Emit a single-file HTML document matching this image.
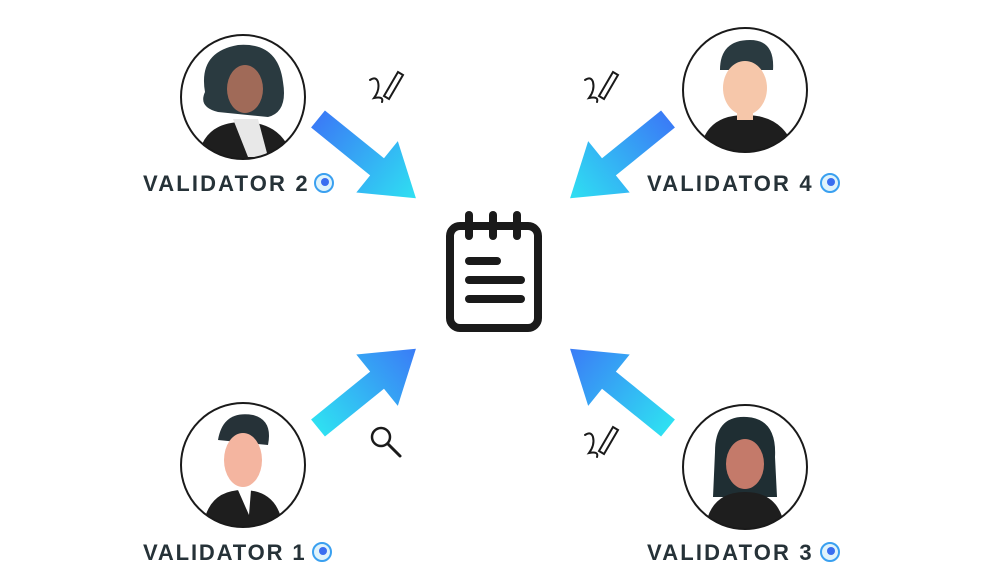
<!DOCTYPE html>
<html><head><meta charset="utf-8"><style>
html,body{margin:0;padding:0;background:#fff;}
svg{display:block}
text{font-family:"Liberation Sans",sans-serif;font-weight:bold;fill:#263238;font-size:22px;letter-spacing:2.4px}
</style></head><body>
<svg width="990" height="587" viewBox="0 0 990 587" xmlns="http://www.w3.org/2000/svg">
<defs>
<linearGradient id="g" x1="0" y1="0" x2="1" y2="0"><stop offset="0" stop-color="#3a7cf6"/><stop offset="1" stop-color="#2fe0f2"/></linearGradient>
<linearGradient id="g2" x1="0" y1="0" x2="1" y2="0"><stop offset="0" stop-color="#2fe0f2"/><stop offset="1" stop-color="#3a7cf6"/></linearGradient>
<g id="arr"><polygon points="0,-11 76,-11 76,-33 126,0 76,33 76,11 0,11"/></g>
<clipPath id="c"><circle cx="0" cy="0" r="62"/></clipPath>
<g id="badge"><circle r="9" fill="#dff3fb" stroke="#3aa0f0" stroke-width="2"/><circle cx="1" cy="-1" r="4" fill="#3a6ef0"/></g>
</defs>
<g fill="url(#g)" transform="translate(318,119) rotate(39)"><use href="#arr"/></g>
<g fill="url(#g)" transform="translate(668,119) rotate(141)"><use href="#arr"/></g>
<g fill="url(#g2)" transform="translate(318,428) rotate(-39)"><use href="#arr"/></g>
<g fill="url(#g2)" transform="translate(668,428) rotate(-141)"><use href="#arr"/></g>
<g stroke="#1a1a1a" stroke-width="8" stroke-linecap="round" fill="none">
<rect x="450" y="226" width="88" height="102" rx="10"/>
<line x1="469" y1="215" x2="469" y2="236"/><line x1="493" y1="215" x2="493" y2="236"/><line x1="517" y1="215" x2="517" y2="236"/>
<line x1="469" y1="261" x2="497" y2="261"/><line x1="469" y1="280" x2="521" y2="280"/><line x1="469" y1="299" x2="521" y2="299"/>
</g>
<g transform="translate(243,97)">
<g clip-path="url(#c)"><path d="M-45,62 Q-40,25 0,25 Q40,25 50,62Z" fill="#1e1e1e"/><path d="M-10,22 L15,22 L25,60 L5,60Z" fill="#e8e8e8"/>
<path d="M-38,-5 Q-45,-45 -5,-52 Q35,-55 40,-15 Q45,15 25,20 L-25,15 Q-45,10 -38,-5Z" fill="#2a3a40"/>
<ellipse cx="2" cy="-8" rx="18" ry="24" fill="#a06a58"/></g>
<circle r="62" fill="none" stroke="#1a1a1a" stroke-width="2"/></g>
<g transform="translate(745,90)">
<g clip-path="url(#c)"><path d="M-45,62 Q-40,25 0,25 Q40,25 50,62Z" fill="#1e1e1e"/>
<path d="M-25,-20 Q-25,-50 5,-50 Q30,-50 28,-20Z" fill="#2a3a40"/>
<ellipse cx="0" cy="-2" rx="22" ry="27" fill="#f6c7aa"/><rect x="-8" y="18" width="16" height="12" fill="#f6c7aa"/></g>
<circle r="62" fill="none" stroke="#1a1a1a" stroke-width="2"/></g>
<g transform="translate(243,465)">
<g clip-path="url(#c)"><path d="M-40,62 Q-35,25 0,25 Q35,25 40,62Z" fill="#1e1e1e"/><path d="M-5,25 L8,25 L6,50Z" fill="#fff"/>
<path d="M-25,-25 Q-20,-55 10,-50 Q30,-45 25,-20Z" fill="#263238"/>
<ellipse cx="0" cy="-5" rx="19" ry="27" fill="#f4b5a0"/></g>
<circle r="62" fill="none" stroke="#1a1a1a" stroke-width="2"/></g>
<g transform="translate(745,467)">
<g clip-path="url(#c)"><path d="M-30,-15 Q-30,-52 2,-50 Q32,-48 30,-10 L32,30 L-32,30Z" fill="#1f2e33"/>
<path d="M-40,62 Q-35,25 0,25 Q35,25 40,62Z" fill="#1e1e1e"/>
<ellipse cx="0" cy="-3" rx="19" ry="25" fill="#c47a6a"/></g>
<circle r="62" fill="none" stroke="#1a1a1a" stroke-width="2"/></g>
<g stroke="#1a1a1a" stroke-width="2" fill="none" stroke-linecap="round">
<g transform="translate(370,68)"><path d="M0,12 Q6,8 8,14 Q10,22 4,30 Q14,28 12,34"/><path d="M14,28 L28,4 L33,7 L19,31 Z"/></g>
<g transform="translate(585,68)"><path d="M0,12 Q6,8 8,14 Q10,22 4,30 Q14,28 12,34"/><path d="M14,28 L28,4 L33,7 L19,31 Z"/></g>
<g transform="translate(585,423)"><path d="M0,12 Q6,8 8,14 Q10,22 4,30 Q14,28 12,34"/><path d="M14,28 L28,4 L33,7 L19,31 Z"/></g>
<circle cx="381" cy="437" r="9" stroke-width="2.5"/><line x1="388" y1="444" x2="400" y2="456" stroke-width="3"/>
</g>
<text x="143" y="191" textLength="167" lengthAdjust="spacing">VALIDATOR 2</text><use href="#badge" x="324" y="183"/>
<text x="647" y="191" textLength="167" lengthAdjust="spacing">VALIDATOR 4</text><use href="#badge" x="830" y="183"/>
<text x="143" y="560" textLength="164" lengthAdjust="spacing">VALIDATOR 1</text><use href="#badge" x="322" y="552"/>
<text x="647" y="560" textLength="167" lengthAdjust="spacing">VALIDATOR 3</text><use href="#badge" x="830" y="552"/>
</svg>
</body></html>
